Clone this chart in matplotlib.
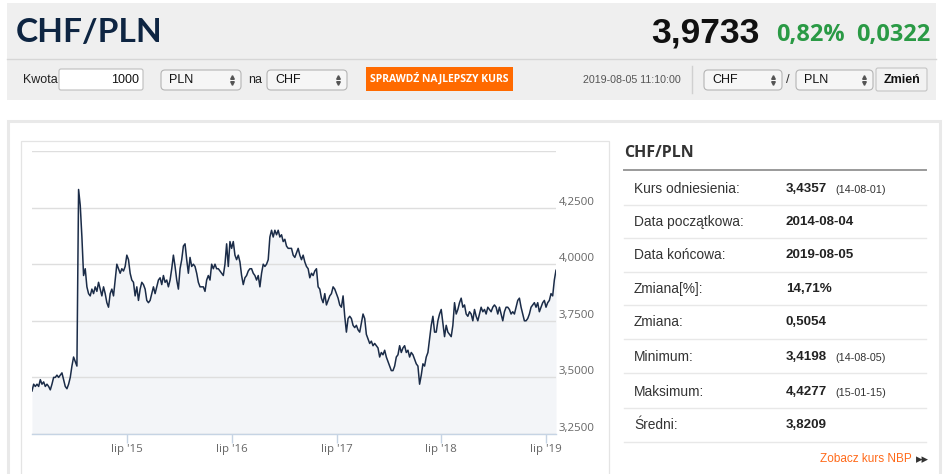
import matplotlib
matplotlib.use("Agg")
import matplotlib.pyplot as plt
from matplotlib.patches import FancyBboxPatch, Rectangle
from matplotlib.transforms import ScaledTranslation
import matplotlib.dates as mdates
import pandas as pd

# ---------------- data ----------------
start_date = "2014-08-04"
end_date = "2019-08-05"
rate_2014_2015 = [
    3.44, 3.47, 3.46, 3.47, 3.46, 3.49, 3.47, 3.48, 3.46, 3.47, 3.46, 3.445, 3.47, 3.50,
    3.50, 3.51, 3.50, 3.51, 3.52, 3.49, 3.46, 3.45, 3.47, 3.50, 3.55, 3.59, 3.57, 3.55,
    4.33, 4.26, 4.12, 3.95, 3.98, 3.90, 3.87, 3.86, 3.89, 3.87, 3.90, 3.88, 3.92, 3.89,
    3.86, 3.90, 3.87, 3.83, 3.81, 3.87, 3.89, 3.86, 3.93, 4.00, 3.98, 3.96, 3.98, 3.97,
    3.99, 4.04, 4.02, 3.96, 3.93, 3.92, 3.86, 3.90, 3.84, 3.89, 3.92, 3.91, 3.89, 3.84,
    3.83, 3.84, 3.87, 3.90, 3.87, 3.90, 3.93, 3.94, 3.91,
]
rate_2016 = [
    3.95, 3.92, 3.93, 3.90, 3.93, 3.98, 4.04, 3.99, 3.93, 3.89, 3.98, 4.02, 4.08, 4.09,
    4.02, 3.96, 4.03, 3.99, 4.00, 3.99, 3.96, 3.92, 3.90, 3.90, 3.90, 3.88, 3.93, 3.95,
    3.93, 4.00, 3.98, 4.00, 3.98, 3.98, 3.97, 3.96, 3.95, 4.00, 4.09, 3.99, 4.10, 4.07,
    4.10, 4.04, 4.02, 4.04, 4.01, 3.95, 3.91, 3.94, 3.95, 3.97, 3.98, 3.98, 3.96, 3.95,
    3.93, 3.95, 3.90, 3.96, 4.00, 3.99, 4.00, 4.02, 4.12, 4.15, 4.12, 4.15, 4.13, 4.15,
    4.12, 4.13, 4.10, 4.11, 4.08, 4.07,
]
rate_2017 = [
    4.07, 4.07, 4.04, 4.03, 4.05, 4.07, 4.04, 4.02, 4.04, 4.01, 3.99, 3.98, 3.94, 3.96,
    3.95, 3.97, 3.98, 3.90, 3.89, 3.85, 3.83, 3.87, 3.82, 3.84, 3.86, 3.87, 3.90, 3.89,
    3.87, 3.85, 3.82, 3.81, 3.86, 3.77, 3.70, 3.76, 3.77, 3.76, 3.73, 3.72, 3.73, 3.71,
    3.70, 3.74, 3.78, 3.76, 3.69, 3.67, 3.65, 3.66, 3.64, 3.65, 3.64, 3.63, 3.59, 3.61,
    3.60, 3.62, 3.59, 3.57, 3.55, 3.53, 3.53, 3.55, 3.59, 3.60, 3.64, 3.61, 3.63, 3.64,
    3.61, 3.62, 3.59, 3.61, 3.60, 3.58, 3.56, 3.55,
]
rate_2018_2019 = [
    3.47, 3.51, 3.56, 3.55, 3.59, 3.61, 3.67, 3.73, 3.77, 3.70, 3.70, 3.75, 3.78, 3.80,
    3.74, 3.68, 3.73, 3.70, 3.69, 3.68, 3.73, 3.83, 3.78, 3.80, 3.83, 3.85, 3.81, 3.82,
    3.78, 3.77, 3.79, 3.78, 3.75, 3.80, 3.77, 3.75, 3.78, 3.81, 3.79, 3.80, 3.78, 3.81,
    3.80, 3.79, 3.81, 3.82, 3.81, 3.78, 3.81, 3.78, 3.75, 3.79, 3.81, 3.81, 3.80, 3.78,
    3.79, 3.78, 3.81, 3.84, 3.85, 3.81, 3.78, 3.75, 3.75, 3.76, 3.78, 3.81, 3.82, 3.83,
    3.81, 3.83, 3.79, 3.81, 3.83, 3.84, 3.81, 3.83, 3.84, 3.87, 3.86, 3.93, 3.9733,
]
rates = rate_2014_2015 + rate_2016 + rate_2017 + rate_2018_2019
dates = pd.date_range(start_date, end_date, periods=len(rates))

y_ticks = [3.25, 3.5, 3.75, 4.0, 4.25, 4.5]
y_tick_labels = ["3,2500", "3,5000", "3,7500", "4,0000", "4,2500", ""]
x_ticks = ["2015-07-01", "2016-07-01", "2017-07-01", "2018-07-01", "2019-07-01"]
x_tick_labels = ["lip '15", "lip '16", "lip '17", "lip '18", "lip '19"]

pair = "CHF/PLN"
last_rate = "3,9733"
change_pct = "0,82%"
change_abs = "0,0322"
timestamp = "2019-08-05 11:10:00"

table_labels = ["Kurs odniesienia:", "Data początkowa:", "Data końcowa:", "Zmiana[%]:",
                "Zmiana:", "Minimum:", "Maksimum:", "Średni:"]
table_values = ["3,4357", "2014-08-04", "2019-08-05", "14,71%", "0,5054", "3,4198",
                "4,4277", "3,8209"]
table_notes = ["(14-08-01)", "", "", "", "", "(14-08-05)", "(15-01-15)", ""]

# ---------------- figure ----------------
W, H = 945, 474
fig = plt.figure(figsize=(W / 100, H / 100), dpi=100)
fig.patch.set_facecolor("white")
bg = fig.add_axes([0, 0, 1, 1])
bg.set_xlim(0, W)
bg.set_ylim(H, 0)
bg.axis("off")


def pt(px):
    return px * 0.72


ARIAL = ["Liberation Sans", "DejaVu Sans"]
OPEN = ["Open Sans", "DejaVu Sans"]
LATO = ["Lato", "DejaVu Sans"]

# header band
bg.add_patch(Rectangle((7, 3), 929, 97, fc="#efefef", ec="none", zorder=0))
bg.plot([7, 936], [59, 59], color="#d6d6d6", lw=1, zorder=1)
bg.text(16, 32, pair, fontsize=pt(33.5), fontweight="bold", color="#0e2542",
        family=LATO, va="center", ha="left")
bg.text(760, 33, last_rate, fontsize=pt(35.5), fontweight="bold", color="#111111",
        family=ARIAL, va="center", ha="right")
bg.text(776, 35, change_pct, fontsize=pt(23.5), fontweight="bold", color="#2a9a45",
        family=OPEN, va="center", ha="left")
bg.text(930, 35, change_abs, fontsize=pt(23.5), fontweight="bold", color="#2a9a45",
        family=OPEN, va="center", ha="right")


def rbox(x0, y0, x1, y1, fc, ec, r=3, z=2):
    bg.add_patch(FancyBboxPatch((x0, y0), x1 - x0, y1 - y0,
                                boxstyle=f"round,pad=0,rounding_size={r}",
                                fc=fc, ec=ec, lw=0.8, zorder=z))


def select(x0, x1, label):
    rbox(x0, 70, x1, 90, "#f6f6f6", "#b5b5b5", r=4)
    bg.text(x0 + 8, 79.5, label, fontsize=pt(12.5), color="#111111", family=ARIAL,
            va="center", ha="left", zorder=3)
    bg.plot([x1 - 9], [77], marker="^", ms=2.6, color="#555555", zorder=3)
    bg.plot([x1 - 9], [82.5], marker="v", ms=2.6, color="#555555", zorder=3)


bg.text(23, 80, "Kwota", fontsize=pt(12.5), color="#222222", family=ARIAL,
        va="center", ha="left")
rbox(59, 69, 143, 90, "white", "#bdbdbd", r=2)
bg.text(139, 79.5, "1000", fontsize=pt(12.5), color="#111111", family=ARIAL,
        va="center", ha="right", zorder=3)
select(161, 241, "PLN")
bg.text(248, 80, "na", fontsize=pt(12.5), color="#222222", family=ARIAL,
        va="center", ha="left")
select(267, 347, "CHF")
bg.add_patch(Rectangle((366, 67), 147, 24, fc="#ff6a00", ec="none", zorder=2))
bg.text(439.5, 79, "SPRAWDŹ NAJLEPSZY KURS", fontsize=pt(10.4), fontweight="bold",
        color="white", family=OPEN, va="center", ha="center", zorder=3)
bg.text(681, 80, timestamp, fontsize=pt(10.6), color="#555555", family=ARIAL,
        va="center", ha="right")
bg.plot([691.5, 691.5], [66, 93], color="#d0d0d0", lw=1)
select(704, 782, "CHF")
bg.text(788, 80, "/", fontsize=pt(13), color="#333333", family=ARIAL,
        va="center", ha="center")
select(796, 873, "PLN")
rbox(876, 68, 927, 91, "#f2f2f2", "#c4c4c4", r=2)
bg.text(901.5, 80, "Zmień", fontsize=pt(12.5), fontweight="bold", color="#111111",
        family=ARIAL, va="center", ha="center", zorder=3)

# lower panels
bg.add_patch(Rectangle((8, 121), 932, 380, fc="white", ec="#e9e9e9", lw=2.2, zorder=0))
bg.add_patch(Rectangle((21, 141), 588, 360, fc="white", ec="#e4e4e4", lw=0.9, zorder=1))

# right table
bg.text(624, 153, pair, fontsize=pt(16), fontweight="bold", color="#333333",
        family=OPEN, va="center", ha="left")
bg.plot([624, 926], [170, 170], color="#9a9a9a", lw=1.4)
row_centers = [189, 222, 255, 289, 322, 357, 392, 425]
row_seps = [205, 238, 272, 305, 339, 373, 408, 442]
for yc, ys, lab, val, note in zip(row_centers, row_seps, table_labels, table_values, table_notes):
    bg.text(634, yc, lab, fontsize=pt(13.8), color="#333333", family=ARIAL,
            va="center", ha="left")
    bg.text(786, yc, val, fontsize=pt(13.4), fontweight="bold", color="#222222",
            family=ARIAL, va="center", ha="left")
    if note:
        bg.text(835, yc + 1, note, fontsize=pt(10.7), color="#333333", family=ARIAL,
                va="center", ha="left")
    bg.plot([624, 926], [ys, ys], color="#e8e8e8", lw=1)
bg.text(912, 459, "Zobacz kurs NBP", fontsize=pt(11.8), color="#ff6a1a", family=ARIAL,
        va="center", ha="right")
bg.text(916, 459.5, "▸▸", fontsize=pt(13), color="#333333", family=["DejaVu Sans"],
        va="center", ha="left")

# ---------------- chart ----------------
ax = fig.add_axes([32 / W, 1 - 434 / H, 524 / W, 283 / H])
ax.set_facecolor("none")
ax.fill_between(dates, rates, 3.25, color="#f3f5f8", lw=0, zorder=1)
ax.plot(dates, rates, color="#1b2c48", lw=1.1, zorder=3)
ax.set_xlim(pd.Timestamp(start_date), pd.Timestamp(end_date))
ax.set_ylim(3.25, 4.5)
ax.set_yticks(y_ticks)
ax.set_yticklabels(y_tick_labels)
ax.yaxis.tick_right()
ax.grid(axis="y", color="#dedede", lw=1, zorder=2)
ax.set_axisbelow(False)
for s in ["top", "left", "right"]:
    ax.spines[s].set_visible(False)
ax.spines["bottom"].set_color("#c6d4e4")
ax.spines["bottom"].set_linewidth(1)
ax.spines["bottom"].set_zorder(4)
ax.tick_params(axis="y", length=0, pad=2, labelsize=pt(11.5), labelcolor="#666666")
ax.set_xticks(pd.to_datetime(x_ticks))
ax.set_xticklabels(x_tick_labels)
ax.tick_params(axis="x", length=6.5, width=1, color="#c6d4e4", pad=1,
               labelsize=pt(11.5), labelcolor="#666666")
for lbl in ax.get_yticklabels():
    lbl.set_family(OPEN)
    lbl.set_transform(lbl.get_transform() + ScaledTranslation(0, 7 / 100, fig.dpi_scale_trans))
for lbl in ax.get_xticklabels():
    lbl.set_family(OPEN)

fig.savefig("out.png", dpi=100)
